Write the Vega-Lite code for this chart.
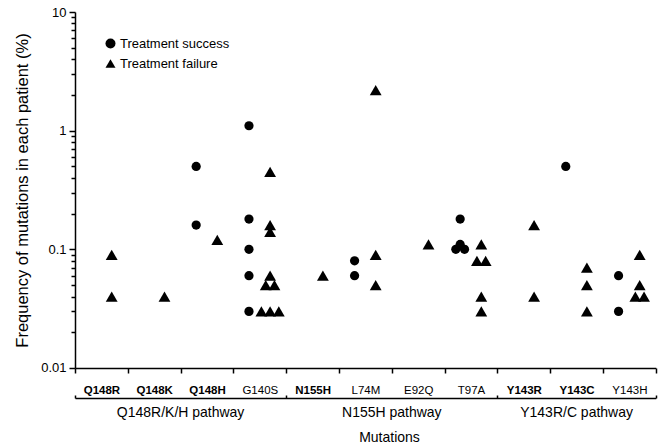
{
  "$schema": "https://vega.github.io/schema/vega-lite/v6.json",
  "padding": {"left": 14, "top": 6, "right": 3, "bottom": 2},
  "background": "white",
  "width": 580.8,
  "height": 356,
  "config": {
    "font": "Liberation Sans",
    "view": {"stroke": "transparent", "strokeWidth": 0},
    "style": {"cell": {"stroke": "transparent", "strokeWidth": 0}},
    "axis": {"domainColor": "black", "tickColor": "black", "labelColor": "black", "titleColor": "black", "domainWidth": 1.5, "tickWidth": 1.5, "grid": false, "domainOpacity": 1, "zindex": 1},
    "legend": {"padding": 0}
  },
  "data": {
    "values": [
      {"pathway": "Q148R/K/H pathway", "mutation": "Q148R", "outcome": "Treatment failure", "value": 0.09},
      {"pathway": "Q148R/K/H pathway", "mutation": "Q148R", "outcome": "Treatment failure", "value": 0.04},
      {"pathway": "Q148R/K/H pathway", "mutation": "Q148K", "outcome": "Treatment failure", "value": 0.04},
      {"pathway": "Q148R/K/H pathway", "mutation": "Q148H", "outcome": "Treatment success", "value": 0.5},
      {"pathway": "Q148R/K/H pathway", "mutation": "Q148H", "outcome": "Treatment success", "value": 0.16},
      {"pathway": "Q148R/K/H pathway", "mutation": "Q148H", "outcome": "Treatment failure", "value": 0.12},
      {"pathway": "Q148R/K/H pathway", "mutation": "G140S", "outcome": "Treatment success", "value": 1.1},
      {"pathway": "Q148R/K/H pathway", "mutation": "G140S", "outcome": "Treatment success", "value": 0.18},
      {"pathway": "Q148R/K/H pathway", "mutation": "G140S", "outcome": "Treatment success", "value": 0.1},
      {"pathway": "Q148R/K/H pathway", "mutation": "G140S", "outcome": "Treatment success", "value": 0.06},
      {"pathway": "Q148R/K/H pathway", "mutation": "G140S", "outcome": "Treatment success", "value": 0.03},
      {"pathway": "Q148R/K/H pathway", "mutation": "G140S", "outcome": "Treatment failure", "value": 0.45},
      {"pathway": "Q148R/K/H pathway", "mutation": "G140S", "outcome": "Treatment failure", "value": 0.16},
      {"pathway": "Q148R/K/H pathway", "mutation": "G140S", "outcome": "Treatment failure", "value": 0.14},
      {"pathway": "Q148R/K/H pathway", "mutation": "G140S", "outcome": "Treatment failure", "value": 0.06},
      {"pathway": "Q148R/K/H pathway", "mutation": "G140S", "outcome": "Treatment failure", "value": 0.05},
      {"pathway": "Q148R/K/H pathway", "mutation": "G140S", "outcome": "Treatment failure", "value": 0.05},
      {"pathway": "Q148R/K/H pathway", "mutation": "G140S", "outcome": "Treatment failure", "value": 0.03},
      {"pathway": "Q148R/K/H pathway", "mutation": "G140S", "outcome": "Treatment failure", "value": 0.03},
      {"pathway": "Q148R/K/H pathway", "mutation": "G140S", "outcome": "Treatment failure", "value": 0.03},
      {"pathway": "N155H pathway", "mutation": "N155H", "outcome": "Treatment failure", "value": 0.06},
      {"pathway": "N155H pathway", "mutation": "L74M", "outcome": "Treatment success", "value": 0.08},
      {"pathway": "N155H pathway", "mutation": "L74M", "outcome": "Treatment success", "value": 0.06},
      {"pathway": "N155H pathway", "mutation": "L74M", "outcome": "Treatment failure", "value": 2.2},
      {"pathway": "N155H pathway", "mutation": "L74M", "outcome": "Treatment failure", "value": 0.09},
      {"pathway": "N155H pathway", "mutation": "L74M", "outcome": "Treatment failure", "value": 0.05},
      {"pathway": "N155H pathway", "mutation": "E92Q", "outcome": "Treatment failure", "value": 0.11},
      {"pathway": "N155H pathway", "mutation": "T97A", "outcome": "Treatment success", "value": 0.18},
      {"pathway": "N155H pathway", "mutation": "T97A", "outcome": "Treatment success", "value": 0.11},
      {"pathway": "N155H pathway", "mutation": "T97A", "outcome": "Treatment success", "value": 0.1},
      {"pathway": "N155H pathway", "mutation": "T97A", "outcome": "Treatment success", "value": 0.1},
      {"pathway": "N155H pathway", "mutation": "T97A", "outcome": "Treatment failure", "value": 0.11},
      {"pathway": "N155H pathway", "mutation": "T97A", "outcome": "Treatment failure", "value": 0.08},
      {"pathway": "N155H pathway", "mutation": "T97A", "outcome": "Treatment failure", "value": 0.08},
      {"pathway": "N155H pathway", "mutation": "T97A", "outcome": "Treatment failure", "value": 0.04},
      {"pathway": "N155H pathway", "mutation": "T97A", "outcome": "Treatment failure", "value": 0.03},
      {"pathway": "Y143R/C pathway", "mutation": "Y143R", "outcome": "Treatment failure", "value": 0.16},
      {"pathway": "Y143R/C pathway", "mutation": "Y143R", "outcome": "Treatment failure", "value": 0.04},
      {"pathway": "Y143R/C pathway", "mutation": "Y143C", "outcome": "Treatment success", "value": 0.5},
      {"pathway": "Y143R/C pathway", "mutation": "Y143C", "outcome": "Treatment failure", "value": 0.07},
      {"pathway": "Y143R/C pathway", "mutation": "Y143C", "outcome": "Treatment failure", "value": 0.05},
      {"pathway": "Y143R/C pathway", "mutation": "Y143C", "outcome": "Treatment failure", "value": 0.03},
      {"pathway": "Y143R/C pathway", "mutation": "Y143H", "outcome": "Treatment success", "value": 0.06},
      {"pathway": "Y143R/C pathway", "mutation": "Y143H", "outcome": "Treatment success", "value": 0.03},
      {"pathway": "Y143R/C pathway", "mutation": "Y143H", "outcome": "Treatment failure", "value": 0.09},
      {"pathway": "Y143R/C pathway", "mutation": "Y143H", "outcome": "Treatment failure", "value": 0.05},
      {"pathway": "Y143R/C pathway", "mutation": "Y143H", "outcome": "Treatment failure", "value": 0.04},
      {"pathway": "Y143R/C pathway", "mutation": "Y143H", "outcome": "Treatment failure", "value": 0.04}
    ]
  },
  "transform": [
    {"window": [{"op": "row_number", "as": "rn"}, {"op": "count", "as": "n"}], "groupby": ["mutation", "outcome", "value"], "frame": [null, null]},
    {"calculate": "(datum.outcome === 'Treatment success' ? -0.205 : 0.195) + (datum.rn - (datum.n + 1) / 2) * 0.165", "as": "off"}
  ],
  "layer": [
    {
      "mark": {"type": "point", "filled": true, "color": "black", "opacity": 1, "strokeWidth": 0},
      "encoding": {
        "x": {
          "field": "mutation",
          "type": "nominal",
          "sort": ["Q148R", "Q148K", "Q148H", "G140S", "N155H", "L74M", "E92Q", "T97A", "Y143R", "Y143C", "Y143H"],
          "scale": {"paddingInner": 0, "paddingOuter": 0},
          "axis": {
            "orient": "bottom",
            "title": null,
            "domain": true,
            "ticks": true,
            "tickBand": "extent",
            "tickSize": 5,
            "labelAngle": 0,
            "labelFontSize": 11.5,
            "labelPadding": 12,
            "labelFontWeight": {"condition": {"test": "indexof(['Q148R','Q148K','Q148H','N155H','Y143R','Y143C'], datum.value) >= 0", "value": "bold"}, "value": "normal"}
          }
        },
        "xOffset": {"field": "off", "type": "quantitative", "scale": {"domain": [-0.5, 0.5], "range": [0, 52.8]}},
        "y": {
          "field": "value",
          "type": "quantitative",
          "title": "Frequency of mutations in each patient (%)",
          "scale": {"type": "log", "domain": [0.01, 10], "nice": false},
          "axis": {
            "domain": true,
            "ticks": true,
            "values": [0.01, 0.02, 0.03, 0.04, 0.05, 0.06, 0.07, 0.08, 0.09, 0.1, 0.2, 0.3, 0.4, 0.5, 0.6, 0.7, 0.8, 0.9, 1, 2, 3, 4, 5, 6, 7, 8, 9, 10],
            "format": "~g",
            "labelExpr": "indexof([0.01, 0.1, 1, 10], datum.value) >= 0 ? datum.label : ''",
            "labelFontSize": 13,
            "labelPadding": 3,
            "tickSize": {"condition": {"test": "indexof([0.01, 0.1, 1, 10], datum.value) >= 0", "value": 6}, "value": 4},
            "titleFontSize": 16.5,
            "titleFontWeight": "normal",
            "titlePadding": 10
          }
        },
        "shape": {
          "field": "outcome",
          "type": "nominal",
          "scale": {"domain": ["Treatment success", "Treatment failure"], "range": ["circle", "triangle-up"]},
          "legend": {
            "title": null,
            "orient": "none",
            "legendX": 29,
            "legendY": 25,
            "labelFontSize": 13,
            "labelColor": "black",
            "symbolSize": 100,
            "symbolFillColor": "black",
            "symbolStrokeWidth": 0,
            "symbolOpacity": 1,
            "rowPadding": 6,
            "labelOffset": 3
          }
        },
        "size": {"condition": {"test": "datum.outcome === 'Treatment success'", "value": 85}, "value": 140}
      }
    },
    {
      "mark": {"type": "point", "opacity": 0},
      "encoding": {
        "x": {
          "field": "mutation",
          "type": "nominal",
          "sort": ["Q148R", "Q148K", "Q148H", "G140S", "N155H", "L74M", "E92Q", "T97A", "Y143R", "Y143C", "Y143H"],
          "axis": {
            "orient": "bottom",
            "title": null,
            "labels": false,
            "offset": 30,
            "tickBand": "extent",
            "tickSize": -3,
            "tickOpacity": {"condition": {"test": "datum.extra || indexof(['G140S','T97A','Y143H'], datum.value) >= 0", "value": 1}, "value": 0}
          }
        }
      }
    },
    {
      "mark": {"type": "point", "opacity": 0},
      "encoding": {
        "x": {
          "field": "mutation",
          "type": "nominal",
          "sort": ["Q148R", "Q148K", "Q148H", "G140S", "N155H", "L74M", "E92Q", "T97A", "Y143R", "Y143C", "Y143H"],
          "axis": {
            "orient": "bottom",
            "title": null,
            "offset": 30,
            "domain": false,
            "ticks": false,
            "labelExpr": "datum.value === 'Q148K' ? 'Q148R/K/H pathway' : datum.value === 'L74M' ? 'N155H pathway' : ''",
            "labelOffset": 26.4,
            "labelAngle": 0,
            "labelFontSize": 14,
            "labelPadding": 8,
            "labelOverlap": false,
            "labelBound": false,
            "labelFlush": false
          }
        }
      }
    },
    {
      "mark": {"type": "point", "opacity": 0},
      "encoding": {
        "x": {
          "field": "mutation",
          "type": "nominal",
          "sort": ["Q148R", "Q148K", "Q148H", "G140S", "N155H", "L74M", "E92Q", "T97A", "Y143R", "Y143C", "Y143H"],
          "title": "Mutations",
          "axis": {
            "orient": "bottom",
            "offset": 30,
            "domain": false,
            "ticks": false,
            "labelExpr": "datum.value === 'Y143C' ? 'Y143R/C pathway' : ''",
            "labelAngle": 0,
            "labelFontSize": 14,
            "labelPadding": 8,
            "labelOverlap": false,
            "labelBound": false,
            "labelFlush": false,
            "titleFontSize": 14,
            "titleFontWeight": "normal",
            "titlePadding": 11,
            "titleX": 314
          }
        }
      }
    }
  ],
  "resolve": {"axis": {"x": "independent"}}
}
